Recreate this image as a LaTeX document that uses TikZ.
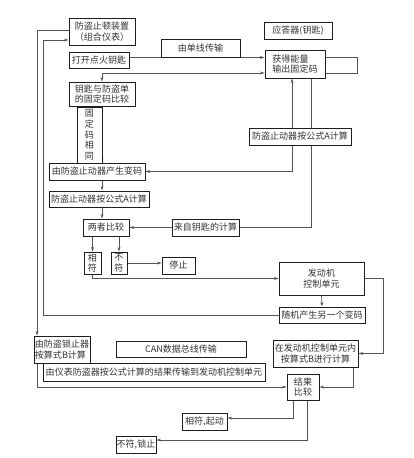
\documentclass[tikz,border=0pt]{standalone}
\usepackage{fontspec}
\newfontfamily\cjkfont{Noto Sans CJK SC}
\usepackage{tikz}
\usetikzlibrary{
  arrows.meta,
  backgrounds
}
\definecolor{boxborder}{RGB}{30,30,30}
\definecolor{linecolor}{RGB}{85,85,85}
\definecolor{textcolor}{RGB}{50,50,50}
\tikzset{
  stagebox/.style={
    draw=boxborder, line width=0.8pt, fill=white, inner sep=0.5pt,
    align=center, text=textcolor,
    font=\cjkfont\fontsize{7.7}{9.2}\selectfont
  },
  leftbox/.style={
    stagebox, align=left
  },
  boxsize/.style 2 args={
    minimum width=#1*0.03cm, minimum height=#2*0.03cm
  },
  flowline/.style={
    draw=linecolor, line width=0.55pt
  },
  flowarrow/.style={
    flowline, -{Stealth[length=4pt,width=2.6pt]}
  },
  bothflow/.style={
    flowline, {Stealth[length=4pt,width=2.6pt]}-{Stealth[length=4pt,width=2.6pt]}
  }
}

\begin{document}
\begin{tikzpicture}[x=0.03cm, y=-0.03cm]
  \useasboundingbox (0,0) rectangle (413,458);
  % instrument side
  \node[stagebox, boxsize={66}{27}] (lockunit) at (102,31.5) {防盗止顿装置\\（组合仪表）};
  \node[stagebox, boxsize={60}{16}] (ignkey) at (99,60) {打开点火钥匙};
  \node[stagebox, boxsize={79}{18}] (wirelink) at (200.5,48) {由单线传输};
  \node[stagebox, boxsize={68}{17}] (transponder) at (298,30.5) {应答器(钥匙)};
  \node[leftbox, boxsize={60}{28}] (keyout) at (295,64) {获得能量\\输出固定码};
  \node[stagebox, boxsize={66}{24}] (fixcompare) at (102,94) {钥匙与防盗单\\的固定码比较};
  \node[stagebox, boxsize={25}{56}] (fixsame) at (89.5,135) {固\\定\\码\\相\\同};
  \node[stagebox, boxsize={96}{17}] (varcode) at (97,171.5) {由防盗止动器产生变码};
  \node[stagebox, boxsize={102}{17}] (calcAkey) at (300,136.5) {防盗止动器按公式A计算};
  \node[stagebox, boxsize={100}{16}] (calcA) at (99,199) {防盗止动器按公式A计算};
  \node[stagebox, boxsize={46}{17}] (bothcmp) at (106,227.5) {两者比较};
  \node[stagebox, boxsize={67}{17}] (keycalc) at (205.5,227.5) {来自钥匙的计算};
  \node[stagebox, boxsize={17}{22}] (match) at (92.5,263) {相\\符};
  \node[stagebox, boxsize={16}{22}] (nomatch) at (119,263) {不\\符};
  \node[stagebox, boxsize={33}{17}] (halt) at (178.5,265.5) {停止};
  % engine side
  \node[stagebox, boxsize={85}{33}] (ecu) at (321.5,278.5) {发动机\\控制单元};
  \node[stagebox, boxsize={86}{16}] (newcode) at (322,315) {随机产生另一个变码};
  \node[leftbox, boxsize={56}{27}] (calcBlock) at (62,349.5) {由防盗锁止器\\按算式B计算};
  \node[stagebox, boxsize={130}{16}] (canbus) at (181,349) {CAN数据总线传输};
  \node[stagebox, boxsize={222}{18}] (resultlink) at (154,372.5) {由仪表防盗器按公式计算的结果传输到发动机控制单元};
  \node[stagebox, boxsize={85}{27}] (calcBecu) at (315.5,353.5) {在发动机控制单元内\\按算式B进行计算};
  \node[stagebox, boxsize={32}{26}] (resultcmp) at (303,387) {结果\\比较};
  \node[stagebox, boxsize={45}{17}] (startok) at (204.5,421.5) {相符,起动};
  \node[stagebox, boxsize={40}{17}] (lockout) at (136,444.5) {不符,锁止};

  \coordinate (split) at (102,73);
  \coordinate (loopR) at (357,0);
  \coordinate (xa) at (292,0);
  \coordinate (xb) at (311,0);
  \coordinate (inTL) at (43,40);
  \coordinate (outTL) at (37,30);
  \coordinate (xr) at (383,0);
  \coordinate (xs) at (353,0);
  \coordinate (xt) at (293,0);
  \coordinate (xu) at (307,0);
  \coordinate (ya) at (0,418);
  \coordinate (yb) at (0,440);

  \begin{scope}[on background layer]
    \draw[flowarrow] (ignkey.east |- wirelink.south) -- (keyout.west |- wirelink.south);
    \draw[flowarrow] (split) -- (keyout.west |- split);
    \draw[flowarrow] (split) -- (fixcompare.north);
    \draw[flowline] (keyout.east |- wirelink.south) -| (loopR |- split) -- (keyout.east |- split);
    \draw[flowarrow] (fixcompare.south) -- (fixcompare.south |- varcode.north);
    \draw[bothflow] (varcode.east) -| (keyout.south -| xa);
    \draw[flowline] (keyout.south -| xb) |- (keycalc.east);
    \draw[flowarrow] (varcode.south -| fixcompare.south) -- (calcA.north -| fixcompare.south);
    \draw[flowarrow] (calcA.south -| fixcompare.south) -- (bothcmp.north -| fixcompare.south);
    \draw[flowarrow] (keycalc.west) -- (bothcmp.east);
    \draw[flowarrow] (bothcmp.south -| match.north) -- (match.north);
    \draw[flowarrow] (bothcmp.south -| nomatch.north) -- (nomatch.north);
    \draw[flowarrow] (nomatch.east) -- (nomatch.east -| halt.west);
    \draw[flowarrow] (match.south) |- (ecu.west);
    \draw[flowarrow] (ecu.south) -- (newcode.north);
    \draw[flowarrow] (newcode.west) -| (inTL) -- (inTL -| lockunit.west);
    \draw[flowarrow] (outTL -| lockunit.west) -- (outTL) -- (outTL |- calcBlock.north);
    \draw[flowarrow] (calcBlock.south -| outTL) |- (resultcmp.west);
    \draw[flowarrow] (ecu.east) -| (xr |- calcBecu.east) -- (calcBecu.east);
    \draw[flowarrow] (calcBecu.south -| xs) |- (resultcmp.east);
    \draw[flowarrow] (resultcmp.south -| xt) |- (startok.east |- ya);
    \draw[flowarrow] (resultcmp.south -| xu) |- (lockout.east |- yb);
  \end{scope}
\end{tikzpicture}
\end{document}
